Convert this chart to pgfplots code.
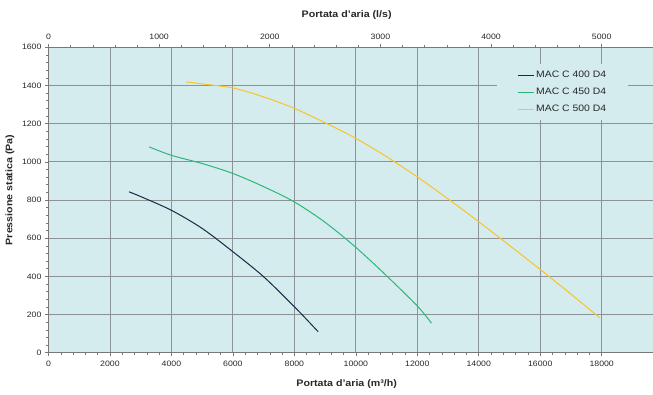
\documentclass[border=0pt]{standalone}
\usepackage{pgfplots}
\pgfplotsset{compat=1.18}
\usepackage{fontspec}
\setmainfont{Liberation Sans}[FakeStretch=1.12]
\definecolor{bgc}{RGB}{212,236,238}
\definecolor{gridc}{RGB}{140,146,150}
\definecolor{axc}{RGB}{120,120,120}
\definecolor{c400}{RGB}{26,40,72}
\definecolor{c450}{RGB}{45,182,120}
\definecolor{c500}{RGB}{250,195,40}
\definecolor{txt}{RGB}{40,40,40}
\begin{document}
\begin{tikzpicture}
\pgfplotsset{
  common/.style={
    scale only axis,
    width=608.5pt, height=305.4pt,
    ymin=0, ymax=1600,
    scaled x ticks=false, scaled y ticks=false,
    tick align=outside, major tick length=3.5pt, minor tick length=2pt,
    axis line style={draw=axc, line width=0.7pt},
    every tick/.style={draw=axc, line width=0.6pt},
    every minor tick/.style={draw=axc, line width=0.5pt},
    ticklabel style={font=\fontsize{7.8}{8.5}\selectfont, text=txt},
    /pgf/number format/assume math mode=true,
    /pgf/number format/1000 sep={},
    label style={font=\fontsize{9.5}{10.5}\selectfont\bfseries, text=txt},
    clip=false,
  }
}
\begin{axis}[common, name=main,
  xmin=0, xmax=19800,
  axis background/.style={fill=bgc},
  axis x line*=bottom, axis y line*=left,
  xtick={0,2000,...,18000}, ytick={0,200,...,1600},
  minor x tick num=4, minor y tick num=4,
  grid=major, major grid style={draw=gridc, line width=0.8pt},
  xlabel={Portata d'aria (m³/h)},
  xlabel style={at={(axis description cs:0.49,-0.1015)}, anchor=center},
  ylabel={Pressione statica (Pa)},
  ylabel style={at={(axis description cs:-0.0633,0.533)}, anchor=center},
  xticklabel style={yshift=-1pt},
  legend style={at={(rel axis cs:0.737,0.945)}, anchor=north west,
    fill=bgc, draw=none, font=\fontsize{9.3}{10}\selectfont, text=txt,
    row sep=5pt, inner xsep=20pt, inner ysep=5pt},
  legend cell align=left,
  legend image code/.code={\draw[#1] (0pt,0pt) -- (16pt,0pt);},
]
\addplot[c400, line width=1pt, smooth] coordinates {
 (2618,843) (3000,818) (4000,746) (5000,651) (6000,529) (7000,398) (8000,241) (8774,110)};
\addlegendentry{MAC C 400 D4}
\addplot[c450, line width=1pt, smooth] coordinates {
 (3278,1078) (4000,1034) (5000,991) (6000,939) (7000,870) (8000,790) (9000,683) (10000,552) (11000,403) (12000,245) (12460,155)};
\addlegendentry{MAC C 450 D4}
\addplot[c500, line width=1pt, smooth] coordinates {
 (4472,1419) (5000,1408) (6000,1387) (7000,1340) (8000,1280) (9046,1201) (10000,1123) (11000,1027) (12000,921) (13000,806) (14000,686) (15000,562) (16000,436) (17000,307) (17935,183)};
\addlegendentry{MAC C 500 D4}
\coordinate (LL) at (rel axis cs:0,0);
\end{axis}
\begin{axis}[common,
  at={(main.south west)}, anchor=south west,
  xmin=0, xmax=5500,
  axis x line*=top, axis y line=none,
  xtick={0,1000,...,5000}, minor x tick num=4,
  xlabel={Portata d'aria (l/s)},
  xlabel style={at={(axis description cs:0.49,1.1048)}, anchor=center},
  xticklabel style={yshift=1pt},
]
\end{axis}
\pgfresetboundingbox
\useasboundingbox ([shift={(-48.5pt,-41.3pt)}]LL) rectangle ([shift={(604.5pt,352.7pt)}]LL);
\end{tikzpicture}
\end{document}
